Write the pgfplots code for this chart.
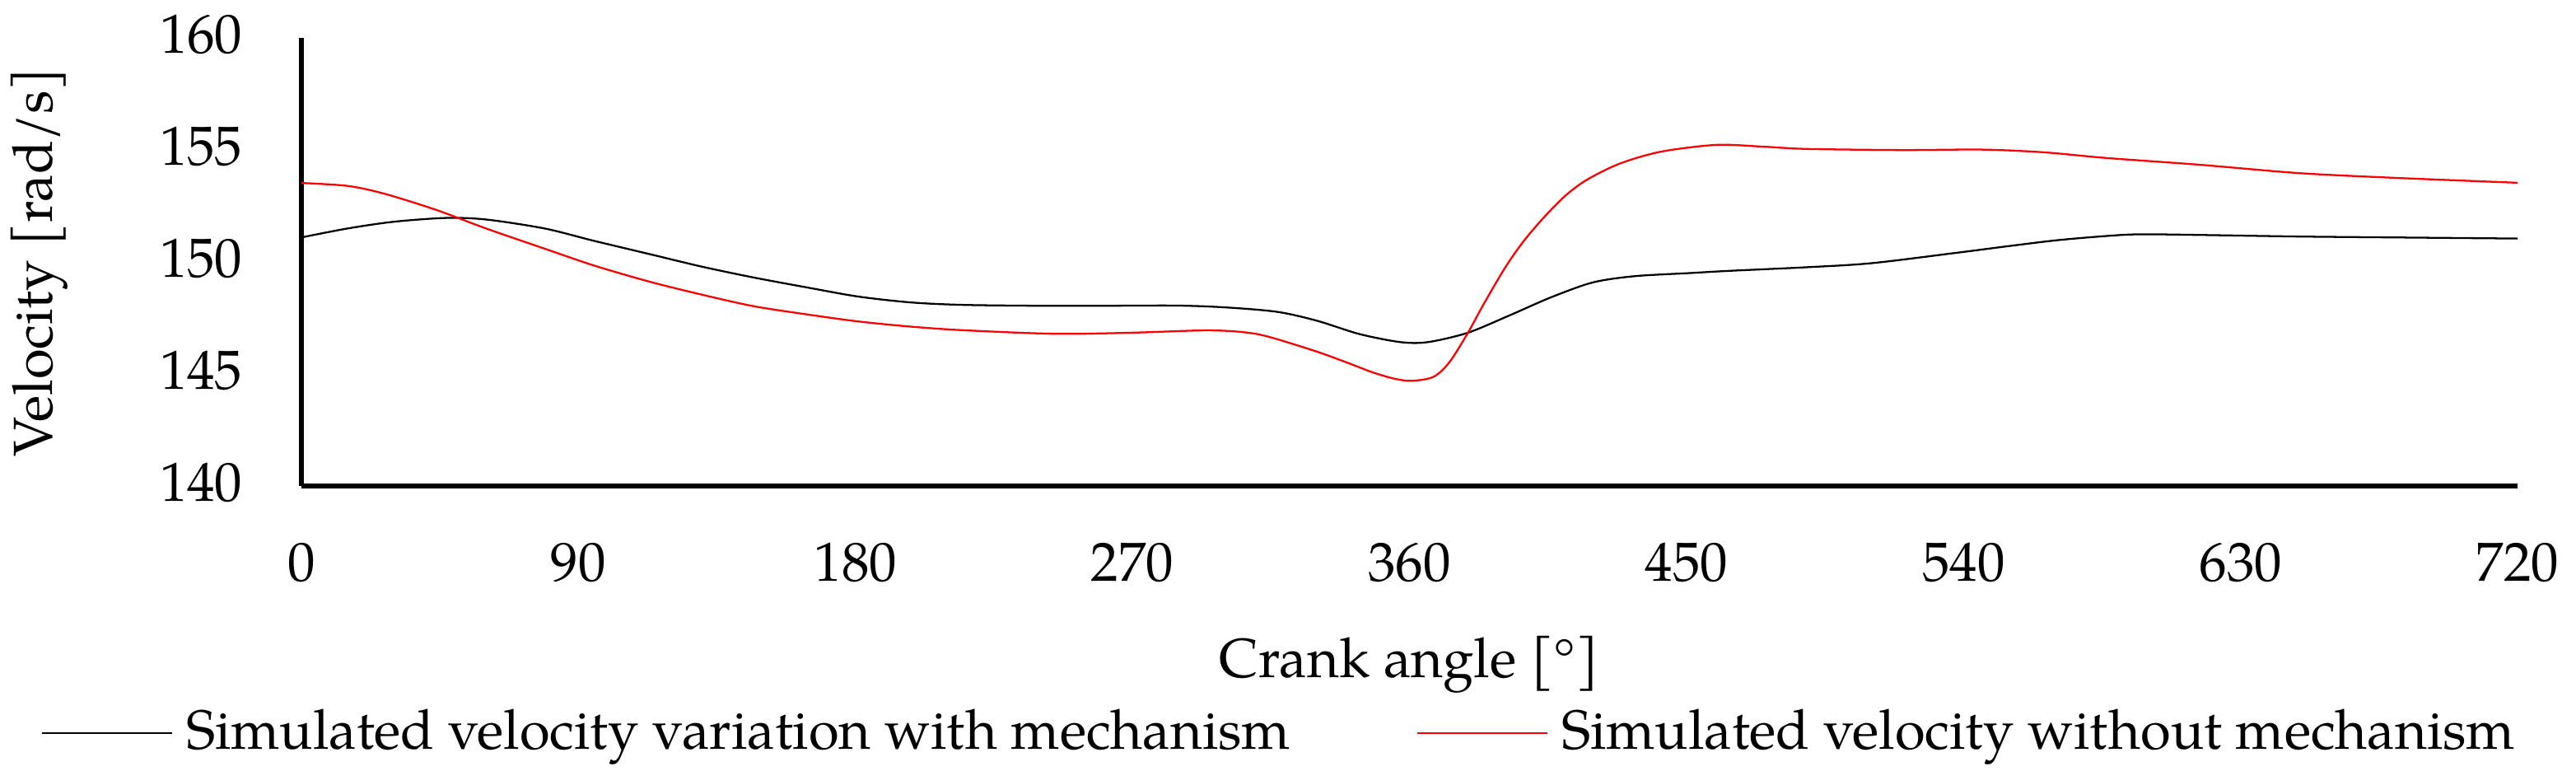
\documentclass[border=0pt]{standalone}
\usepackage{fontspec}
\setmainfont{TeX Gyre Pagella}
\usepackage{pgfplots}
\pgfplotsset{compat=1.18}
\begin{document}
\begin{tikzpicture}
\begin{axis}[
  scale only axis,
  width=414pt, height=83.7pt,
  xmin=0, xmax=720, ymin=140, ymax=160,
  axis x line=bottom, axis y line=left,
  axis line style={line width=0.9pt, -},
  xtick={0,90,180,270,360,450,540,630,720},
  ytick={140,145,150,155,160},
  major tick length=0pt,
  font=\fontsize{10.3}{12}\selectfont,
  /pgf/number format/assume math mode=true,
  xticklabel style={anchor=center, yshift=-14.3pt},
  yticklabel style={anchor=east, inner sep=0pt, xshift=-10.8pt, yshift=0.6pt},
  xlabel={Crank angle [°]},
  ylabel={Velocity [rad/s]},
  xlabel style={at={(axis description cs:0.5,-0.399)}, anchor=center},
  ylabel style={at={(axis description cs:-0.1181,0.5)}, anchor=center},
  legend columns=2,
  legend style={draw=none, fill=none, at={(axis description cs:0.4437,-0.5514)}, anchor=center,
    inner sep=0pt, /tikz/every even column/.append style={column sep=21pt},
    nodes={inner sep=2.5pt}},
  legend image code/.code={\draw[#1] (0pt,0pt) -- (24.3pt,0pt);},
]
\addplot[black, line width=0.35pt, smooth] coordinates {
(0,151.1) (15,151.5) (30,151.8) (47,151.97) (60,151.9) (79,151.5) (95,150.95)
(113,150.36) (130,149.8) (147,149.31) (165,148.85) (181,148.46) (198,148.2)
(215,148.09) (240,148.05) (260,148.05) (284,148.06) (300,147.98) (317,147.78)
(330,147.38) (343.7,146.79) (357,146.43) (366,146.43) (379,146.85) (392.8,147.64)
(406,148.43) (419.5,149.09) (433,149.37) (451,149.51) (464,149.61) (489,149.77)
(510,149.95) (538,150.42) (555,150.72) (570,150.97) (585,151.15) (597,151.24)
(617,151.21) (649,151.14) (680,151.1) (720,151.05)
};
\addlegendentry{Simulated velocity variation with mechanism}
\addplot[red, line width=0.35pt, smooth] coordinates {
(0,153.53) (15,153.4) (27,153.05) (44,152.32) (60,151.5) (79,150.6) (95,149.85)
(113,149.13) (130,148.55) (147,148.03) (165,147.65) (181,147.35) (198,147.12)
(215,146.96) (245,146.8) (270,146.85) (292,146.95) (302,146.92) (310,146.8)
(317,146.56) (330,146.0) (340,145.5) (348,145.08) (355,144.8) (360.6,144.70)
(367.8,144.88) (373,145.54) (379,146.85) (384,148.1) (391,149.74) (397,150.92)
(403.5,151.97) (410.6,152.96) (417.7,153.68) (428.4,154.4) (441.8,154.93)
(459.7,155.23) (475,155.15) (489,155.05) (520,155.0) (546,155.02) (566,154.9)
(586,154.65) (617,154.34) (649,153.97) (680,153.76) (720,153.54)
};
\addlegendentry{Simulated velocity without mechanism}
\coordinate (bl) at (rel axis cs:0,0);
\end{axis}
\pgfresetboundingbox
\path ([shift={(-56.3pt,-53.1pt)}]bl) rectangle ++(481.2pt,143.9pt);
\end{tikzpicture}
\end{document}
